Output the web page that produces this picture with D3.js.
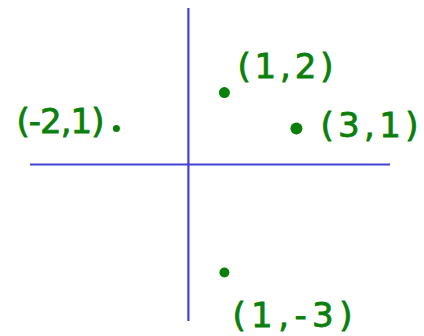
<!DOCTYPE html>
<html>
<head>
<meta charset="utf-8">
<script src="https://cdn.jsdelivr.net/npm/d3@7"></script>
<style>
  html, body { margin: 0; padding: 0; background: #fff; }
  svg { display: block; }
</style>
</head>
<body>
<div id="chart"></div>
<script>
// ── Data: the four plotted points ────────────────────────────
const xValues = [1, 3, -2, 1];
const yValues = [2, 1, 1, -3];
const labels  = ['(1,2)', '(3,1)', '(-2,1)', '(1,-3)'];

// axis extents in data units
const xDomain = [-4.4, 5.6];
const yDomain = [-4.35, 4.35];

// ── Layout (label placement relative to each point) ─────────
const labelLayout = [
  { dx: 13,  dy: -15, anchor: 'start', len: 96 },
  { dx: 24,  dy: 8,   anchor: 'start', len: 98 },
  { dx: -12, dy: 4,   anchor: 'end',   len: 88 },
  { dx: 8,   dy: 55,  anchor: 'start', len: 120 }
];
const dotR = [5.5, 6, 3.5, 5];

const W = 424, H = 336;
const BLUE  = '#4242d2';
const GREEN = '#0b7f0b';

const x = d3.scaleLinear().domain(xDomain).range([30, 390]);
const y = d3.scaleLinear().domain(yDomain).range([321, 8]);

const svg = d3.select('#chart').append('svg')
  .attr('width', W)
  .attr('height', H);

// axes: plain crossing lines, no ticks
svg.append('line')
  .attr('x1', x(xDomain[0])).attr('x2', x(xDomain[1]))
  .attr('y1', y(0)).attr('y2', y(0))
  .attr('stroke', BLUE).attr('stroke-width', 2.2);

svg.append('line')
  .attr('x1', x(0)).attr('x2', x(0))
  .attr('y1', y(yDomain[1])).attr('y2', y(yDomain[0]))
  .attr('stroke', BLUE).attr('stroke-width', 2.2);

const pts = xValues.map((v, i) => ({ x: v, y: yValues[i], label: labels[i], i }));

svg.append('g').selectAll('circle')
  .data(pts)
  .join('circle')
    .attr('cx', d => x(d.x))
    .attr('cy', d => y(d.y))
    .attr('r', d => dotR[d.i])
    .attr('fill', GREEN);

svg.append('g').selectAll('text')
  .data(pts)
  .join('text')
    .attr('x', d => x(d.x) + labelLayout[d.i].dx)
    .attr('y', d => y(d.y) + labelLayout[d.i].dy)
    .attr('text-anchor', d => labelLayout[d.i].anchor)
    .attr('textLength', d => labelLayout[d.i].len)
    .attr('lengthAdjust', 'spacing')
    .attr('font-family', 'DejaVu Sans')
    .attr('font-size', 34)
    .attr('fill', GREEN)
    .attr('stroke', GREEN)
    .attr('stroke-width', 0.8)
    .text(d => d.label);
</script>
</body>
</html>
